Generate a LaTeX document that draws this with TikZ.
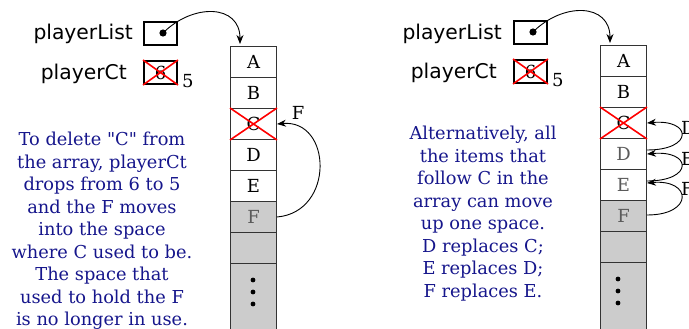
\documentclass[tikz,border=0pt]{standalone}
\usepackage{fontspec}
\setmainfont{DejaVu Serif}[Ligatures=TeXOff]
\setsansfont{DejaVu Sans}
\usetikzlibrary{arrows.meta}
\definecolor{txtblue}{RGB}{22,22,140}
\definecolor{cellgray}{RGB}{204,204,204}
\definecolor{lettergray}{RGB}{90,90,90}
\tikzset{
  x=1pt, y=-1pt,
  cell/.style={draw=black!80, line width=1pt, minimum width=46pt, minimum height=31pt, inner sep=0pt, anchor=north west, font=\fontsize{18}{20}\selectfont},
  graycell/.style={cell, fill=cellgray},
  varbox/.style={draw=black, line width=2pt, minimum width=33pt, minimum height=23pt, inner sep=0pt, anchor=north west},
  varname/.style={font=\sffamily\fontsize{20.3}{22}\selectfont, anchor=base east, inner sep=0pt},
  arr/.style={line width=0.9pt, -{Stealth[length=9pt,width=7pt]}},
  cross/.style={red, line width=1.6pt},
  note/.style={txtblue, align=center, font=\fontsize{17.8}{22.5}\selectfont, inner sep=0pt},
  lbl/.style={font=\fontsize{18}{20}\selectfont, inner sep=0pt},
}
\begin{document}
\begin{tikzpicture}
\clip (0,0) rectangle (689,329);
\fill[white] (0,0) rectangle (689,329);
% ---------- left ----------
\node[varname] (lPLt) at (133,40) {playerList};
\node[varbox] (lPL) at (143,21) {};
\fill (163,33) circle (3.6pt);
\coordinate (lDot) at (163,33);
\node[varname] (lPCt) at (127,80) {playerCt};
\node[varbox] (lPC) at (143,60) {\fontsize{18}{20}\selectfont 6};
\draw[cross] (lPC.north west) -- (lPC.south east) (lPC.north east) -- (lPC.south west);
\node[lbl, anchor=base west] (l5) at (182,88) {5};

\node[cell] (lA) at (230,46) {A};
\node[cell] (lB) at (230,77) {B};
\node[cell] (lC) at (230,108) {C};
\node[cell] (lD) at (230,139) {D};
\node[cell] (lE) at (230,170) {E};
\node[graycell, text=lettergray] (lF) at (230,201) {F};
\node[graycell] (lG) at (230,232) {};
\node[graycell, minimum height=80pt] (lH) at (230,263) {};
\draw[cross] (lC.north west) -- (lC.south east) (lC.north east) -- (lC.south west);
\foreach \yy in {280,292,304} \fill (253,\yy) circle (2.4pt);

\coordinate (lTip) at (240,44);
\draw[arr] (lDot) .. controls +(30,-30) and +(0,-40) .. (lTip);
\draw[arr] (lF.east) .. controls +(58,-5) and +(55,-5) .. (lC.east);
\node[lbl] (lFl) at (298,113) {F};

\node[note] (lNote) at (102,231) {To delete "C" from\\the array, playerCt\\drops from 6 to 5\\and the F moves\\into the space\\where C used to be.\\The space that\\used to hold the F\\is no longer in use.};

% ---------- right ----------
\node[varname] (rPLt) at (502,40) {playerList};
\node[varbox] (rPL) at (513,20) {};
\fill (533,32) circle (3.6pt);
\coordinate (rDot) at (533,32);
\node[varname] (rPCt) at (497,79) {playerCt};
\node[varbox] (rPC) at (513,59) {\fontsize{18}{20}\selectfont 6};
\draw[cross] (rPC.north west) -- (rPC.south east) (rPC.north east) -- (rPC.south west);
\node[lbl, anchor=base west] (r5) at (552,87) {5};

\node[cell] (rA) at (600,45) {A};
\node[cell] (rB) at (600,76) {B};
\node[cell] (rC) at (600,107) {C};
\node[cell, text=lettergray] (rD) at (600,138) {D};
\node[cell, text=lettergray] (rE) at (600,169) {E};
\node[graycell, text=lettergray] (rF) at (600,200) {F};
\node[graycell] (rG) at (600,231) {};
\node[graycell, minimum height=80pt] (rH) at (600,262) {};
\draw[cross] (rC.north west) -- (rC.south east) (rC.north east) -- (rC.south west);
\foreach \yy in {279,291,303} \fill (618,\yy) circle (2.4pt);

\coordinate (rTip) at (610,43);
\draw[arr] (rDot) .. controls +(30,-30) and +(0,-40) .. (rTip);
\draw[arr] ([yshift=4pt]rD.east) .. controls +(47,0) and +(45,-4) .. (rC.east);
\draw[arr] ([yshift=4pt]rE.east) .. controls +(47,0) and +(45,-4) .. (rD.east);
\draw[arr] ([yshift=1pt]rF.east) .. controls +(47,0) and +(45,-4) .. ([yshift=2pt]rE.east);
\node[lbl, anchor=west] (rDl) at (681,128) {D};
\node[lbl, anchor=west] (rEl) at (681,159) {E};
\node[lbl, anchor=west] (rFl) at (681,189) {F};

\node[note] (rNote) at (483,213.5) {Alternatively, all\\the items that\\follow C in the\\array can move\\up one space.\\D replaces C;\\E replaces D;\\F replaces E.};
\end{tikzpicture}
\end{document}
